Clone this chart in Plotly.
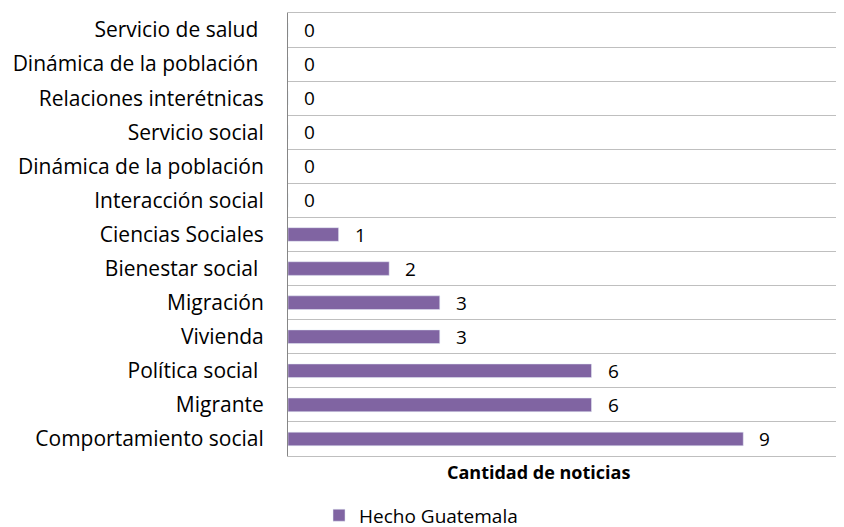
import plotly.graph_objects as go

# categories listed bottom -> top, as drawn
categorias = ["Comportamiento social", "Migrante", "Política social ", "Vivienda",
              "Migración", "Bienestar social ", "Ciencias Sociales", "Interacción social",
              "Dinámica de la población", "Servicio social", "Relaciones interétnicas",
              "Dinámica de la población ", "Servicio de salud "]
cantidad = [9, 6, 6, 3, 3, 2, 1, 0, 0, 0, 0, 0, 0]
serie = "Hecho Guatemala"

fnt = "'Open Sans', sans-serif"
fs = 21

fig = go.Figure()
fig.add_trace(go.Bar(
    x=cantidad, y=categorias, orientation="h", name=serie,
    marker=dict(color="#8064A2"), showlegend=True,
))

# value labels to the right of each bar
for c, v in zip(categorias, cantidad):
    fig.add_annotation(x=v, y=c, text=str(v), showarrow=False,
                       xanchor="left", xshift=14,
                       font=dict(family=fnt, size=19, color="black"))

fig.add_annotation(xref="paper", yref="paper", x=0.445, y=-0.036,
                   text="<b>Cantidad de noticias</b>", showarrow=False,
                   yanchor="middle", font=dict(family=fnt, size=18, color="black"))

fig.update_layout(
    width=844, height=527,
    margin=dict(l=280, r=0, t=5, b=79, autoexpand=False),
    paper_bgcolor="white", plot_bgcolor="white",
    font=dict(family=fnt, size=fs, color="black"),
    bargap=0.6,
    legend=dict(orientation="h", x=0.055, y=-0.134, xanchor="left", yanchor="middle",
                font=dict(family=fnt, size=19, color="black")),
    xaxis=dict(range=[0, 11.15], showticklabels=False, showgrid=False, zeroline=False,
               showline=True, mirror=True, linecolor="#BFBFBF", linewidth=1,
               automargin=False),
    yaxis=dict(type="category", categoryorder="array", categoryarray=categorias,
               tickson="boundaries", showgrid=True, gridcolor="#BFBFBF", gridwidth=1,
               showline=True, linecolor="#868686", linewidth=1, ticks="",
               ticklabelstandoff=19, tickfont=dict(family=fnt, size=fs),
               automargin=False),
)

fig.write_html("out.html")
